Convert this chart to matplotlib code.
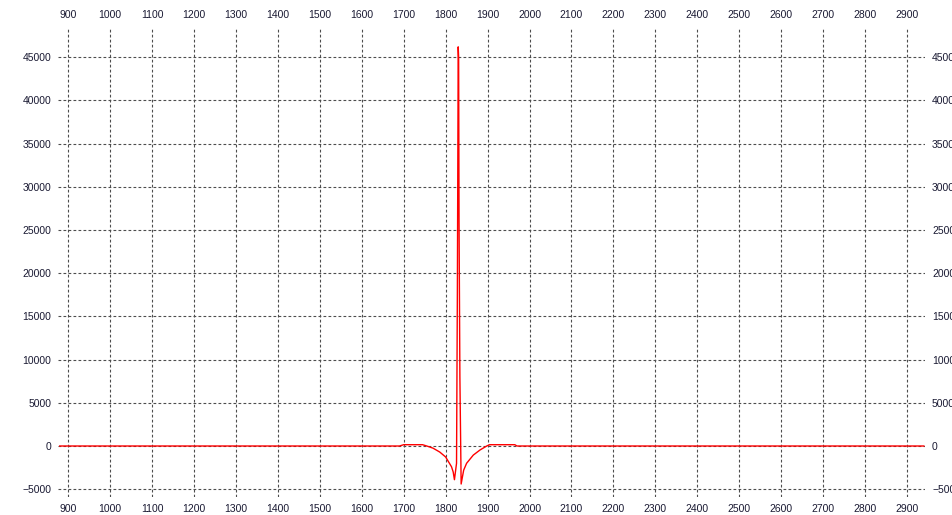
import matplotlib.pyplot as plt

# Spectrum trace (wavenumber vs. intensity)
wavenumber = [880, 1690, 1700, 1720, 1745, 1755, 1770, 1786, 1800, 1814, 1818, 1821,
              1826, 1828, 1830, 1831, 1832, 1834, 1837, 1843, 1850, 1866, 1882, 1898,
              1905, 1935, 1965, 1970, 2940]
intensity = [0, 0, 150, 150, 150, 0, -250, -700, -1270, -2400, -3000, -3900,
             -2000, 17800, 46200, 45000, 26000, 8000, -4400, -2800, -2000, -1050, -460, 0,
             150, 150, 150, 0, 0]

x_ticks = list(range(900, 3000, 100))
y_ticks = list(range(-5000, 50000, 5000))

plt.rcParams['font.family'] = ['Liberation Sans', 'DejaVu Sans']

fig = plt.figure(figsize=(9.53, 5.15), dpi=100)
ax = fig.add_axes([0.0609, 0.035, 0.9098, 0.9126])

ax.plot(wavenumber, intensity, color='#ff0000', linewidth=1.0, zorder=3)

ax.set_xlim(876, 2943)
ax.set_ylim(-5900, 48500)
ax.set_xticks(x_ticks)
ax.set_yticks(y_ticks)

ax.grid(True, color='#4d4d4d', linestyle=(0, (2.5, 2)), linewidth=0.8)
for s in ax.spines.values():
    s.set_visible(False)

ax.tick_params(axis='both', length=0, labelsize=7.5, labelcolor='#1a1a33')
ax.tick_params(axis='x', top=True, labeltop=True, pad=5)
ax.tick_params(axis='y', right=True, labelright=True, pad=5)

plt.savefig('out.png', dpi=100)
